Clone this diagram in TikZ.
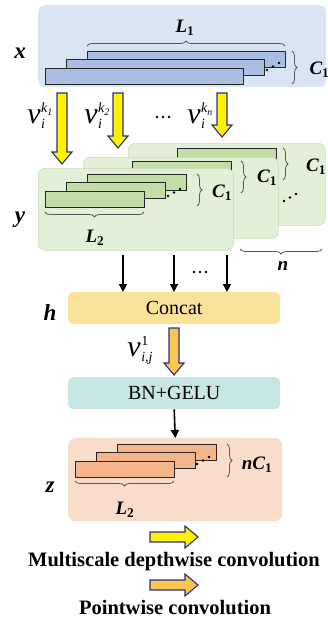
\documentclass[tikz,border=0pt]{standalone}
\usepackage{fontspec}
\setmainfont{Liberation Serif}
\usetikzlibrary{decorations.pathreplacing,arrows.meta,calc}
\definecolor{xfill}{HTML}{DAE5F3}
\definecolor{xbar}{HTML}{A9BEE2}
\definecolor{yfill}{HTML}{E3F0D8}
\definecolor{yedge}{HTML}{C8DCB8}
\definecolor{ybar}{HTML}{C2DEA6}
\definecolor{cfill}{HTML}{FBE29A}
\definecolor{bnfill}{HTML}{C8E6E4}
\definecolor{zfill}{HTML}{FADCCB}
\definecolor{zbar}{HTML}{F5B58A}
\definecolor{yarr}{HTML}{FFF200}
\definecolor{parr}{HTML}{F9C74F}
\definecolor{navy}{HTML}{2B2E83}
\newcommand\varrow[4]{\draw[barrow,fill=#4] ({#1-5},#2) -- ({#1+5},#2) -- ({#1+5},{#3-12}) -- ({#1+10},{#3-12}) -- (#1,#3) -- ({#1-10},{#3-12}) -- ({#1-5},{#3-12}) -- cycle;}
\newcommand\harrow[4]{\draw[barrow,fill=#4] (#1,{#3-5}) -- ({#2-13},{#3-5}) -- ({#2-13},{#3-11}) -- (#2,#3) -- ({#2-13},{#3+11}) -- ({#2-13},{#3+5}) -- (#1,{#3+5}) -- cycle;}
\newcommand\diagdots[2]{\fill (#1,#2) circle (1.3) ({#1+6},{#2-3.5}) circle (1.3) ({#1+12},{#2-7}) circle (1.3);}
\newcommand\rowdots[2]{\fill ({#1-6},#2) circle (1.3) (#1,#2) circle (1.3) ({#1+6},#2) circle (1.3);}
% nu with superscript (#1) and subscript (#2), subscript narrower
\newcommand\nulab[2]{\textit{ν}\hspace{0.5pt}{\fontsize{14}{15}\selectfont\itshape\rlap{\raisebox{-5pt}{#2}}\raisebox{11pt}{#1}}}
% nu with wider subscript
\newcommand\nulabw[2]{\textit{ν}\hspace{0.5pt}{\fontsize{14}{15}\selectfont\itshape\rlap{\raisebox{11pt}{#1}}\raisebox{-5pt}{#2}}}
\tikzset{
  panel/.style={rounded corners=7pt, inner sep=0pt, anchor=north west},
  bar/.style={draw=black!85, line width=1pt},
  brc/.style={decorate, decoration={brace, amplitude=5pt}, draw=black!65, line width=0.8pt},
  lbl/.style={font=\fontsize{23}{25}\selectfont\bfseries\itshape},
  dimlbl/.style={font=\fontsize{19}{22}\selectfont\bfseries\itshape},
  boxtxt/.style={font=\fontsize{20}{24}\selectfont},
  legtxt/.style={font=\fontsize{20.5}{24}\selectfont\bfseries},
  nulbl/.style={font=\fontsize{30}{32}\selectfont, inner sep=0pt},
  blk/.style={-{Triangle[length=8pt,width=8pt]}, line width=1.6pt},
  barrow/.style={draw=navy, line width=1.1pt, line join=miter},
}
\begin{document}
\begin{tikzpicture}[x=1pt,y=-1pt]
\useasboundingbox (0,0) rectangle (327,621);
% x panel
\node[panel, fill=xfill, minimum width=288, minimum height=82] (xbox) at (38,5) {};
\draw[bar, fill=xbar] (87,51) rectangle ++(198,16);
\draw[bar, fill=xbar] (66,59.5) rectangle ++(198,16);
\draw[bar, fill=xbar] (45,68) rectangle ++(198,16);
\diagdots{267}{70}
\draw[brc] (87,46) -- (285,46);
\draw[brc] (292,51) -- (292,84);
\node[dimlbl] (L1) at (185,28) {L\textsubscript{\upshape 1}};
\node[dimlbl, anchor=west] (C1x) at (306,70) {C\textsubscript{\upshape 1}};
\node[lbl] (xl) at (20,53) {x};
% y panels
\node[panel, fill=yfill, draw=yedge, line width=0.6pt, minimum width=197, minimum height=82] (yb3) at (128,143) {};
\draw[bar, fill=ybar] (177,148) rectangle ++(99,16);
\draw[brc] (283,148) -- (283,180);
\node[dimlbl] (C13) at (316,167) {C\textsubscript{\upshape 1}};
\diagdots{284}{201}
\node[panel, fill=yfill, draw=yedge, line width=0.6pt, minimum width=195, minimum height=81] (yb2) at (83,157) {};
\draw[bar, fill=ybar] (132,161) rectangle ++(99,16);
\draw[brc] (241,161) -- (241,193);
\node[dimlbl] (C12) at (267,178) {C\textsubscript{\upshape 1}};
\node[panel, fill=yfill, draw=yedge, line width=0.6pt, minimum width=195, minimum height=82] (yb1) at (38,168) {};
\draw[bar, fill=ybar] (87,174) rectangle ++(99,16);
\draw[bar, fill=ybar] (66,182.5) rectangle ++(99,16);
\draw[bar, fill=ybar] (45,191) rectangle ++(99,16);
\diagdots{168}{196}
\draw[brc] (197,174) -- (197,206);
\node[dimlbl] (C11) at (222,193) {C\textsubscript{\upshape 1}};
\draw[brc] (144,212) -- (45,212);
\node[dimlbl] (L2y) at (95,238) {L\textsubscript{\upshape 2}};
\draw[brc] (322,249) -- (240,249);
\node[dimlbl] (nl) at (283,266) {n};
\node[lbl] (yl) at (20,220) {y};
% yellow arrows
\varrow{62}{93}{164}{yarr}
\varrow{118}{93}{148}{yarr}
\varrow{222}{93}{137}{yarr}
\node[nulbl] (v1) at (40,116) {\nulab{k\textsubscript{1}}{i}};
\node[nulbl] (v2) at (97,116) {\nulab{k\textsubscript{2}}{i}};
\rowdots{163}{117}
\node[nulbl] (vn) at (200,116) {\nulab{k\textsubscript{\itshape n}}{i}};
% concat
\node[panel, fill=cfill, rounded corners=5pt, minimum width=212, minimum height=32] (concat) at (68,292) {};
\node[boxtxt] (ctxt) at (concat.center) {Concat};
\node[lbl] (hl) at (50,313) {h};
\coordinate (s1) at (123,255);
\coordinate (s2) at (174,255);
\coordinate (s3) at (227,255);
\draw[blk] (s1) -- (s1 |- concat.north);
\draw[blk] (s2) -- (s2 |- concat.north);
\draw[blk] (s3) -- (s3 |- concat.north);
\rowdots{200}{272}
% pointwise arrow
\node[panel, fill=bnfill, rounded corners=5pt, minimum width=212, minimum height=32] (bn) at (68,377) {};
\node[boxtxt] (bntxt) at (bn.center) {BN+GELU};
\varrow{174}{328}{375}{parr}
\node[nulbl] (vij) at (140,350) {\nulabw{\upshape 1}{i,j}};
% z panel
\node[panel, fill=zfill, minimum width=214, minimum height=83] (zbox) at (68,438) {};
\draw[blk] (bn.south) -- (zbox.north);
\draw[bar, fill=zbar] (117,444) rectangle ++(99,16);
\draw[bar, fill=zbar] (96,452.5) rectangle ++(99,16);
\draw[bar, fill=zbar] (75,461) rectangle ++(99,16);
\diagdots{197}{464}
\draw[brc] (227,444) -- (227,477);
\node[dimlbl] (nC1) at (257,465) {nC\textsubscript{\upshape 1}};
\draw[brc] (174,481) -- (75,481);
\node[dimlbl] (L2z) at (125,510) {L\textsubscript{\upshape 2}};
\node[lbl] (zl) at (50,487) {z};
% legend
\harrow{150}{198}{537}{yarr}
\node[legtxt] (leg1) at (174,562) {Multiscale depthwise convolution};
\harrow{150}{198}{585}{parr}
\node[legtxt] (leg2) at (175,608) {Pointwise convolution};
\end{tikzpicture}
\end{document}
